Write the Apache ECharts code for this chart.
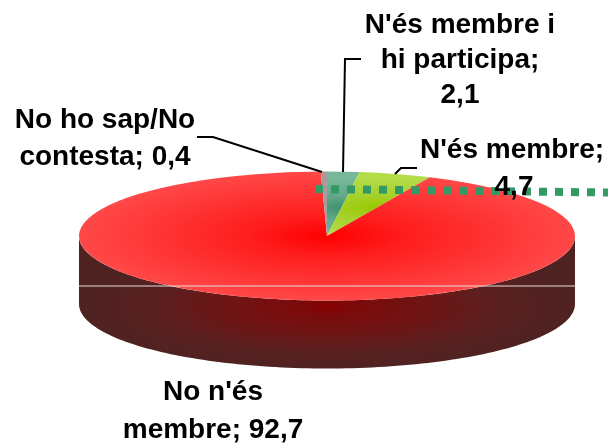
<!DOCTYPE html>
<html><head><meta charset="utf-8">
<style>html,body{margin:0;padding:0;background:#fff}#c{width:608px;height:443px}</style>
<script src="https://cdn.jsdelivr.net/npm/echarts@6/dist/echarts.min.js"></script>
</head><body><div id="c"></div>
<script>
const categories = ["N'és membre i hi participa", "N'és membre", "No n'és membre", "No ho sap/No contesta"];
const values = [2.1, 4.7, 92.7, 0.4];
const valueLabels = ["2,1", "4,7", "92,7", "0,4"];

const CX = 327, CY = 236, RX = 248, RY = 64.5, DEPTH = 68;
const K = RY / RX;
const total = values.reduce((a, b) => a + b, 0);
const topFills = [
  {type:'radial',x:18,y:-110,r:110,global:true,colorStops:[{offset:0,color:'#3f9070'},{offset:.4,color:'#62a888'},{offset:1,color:'#78b89a'}]},
  {type:'radial',x:50,y:-110,r:110,global:true,colorStops:[{offset:0,color:'#98c800'},{offset:.45,color:'#a6d22c'},{offset:1,color:'#b4dc48'}]},
  {type:'radial',x:0,y:0,r:RX,global:true,colorStops:[{offset:0,color:'#ff0000'},{offset:.3,color:'#ff1c1c'},{offset:1,color:'#ff4848'}]},
  {type:'radial',x:0,y:0,r:RX,global:true,colorStops:[{offset:0,color:'#a8a0a0'},{offset:1,color:'#a89898'}]}
];
const sideGrad = {type:'radial',x:0,y:(RY+6)/K,r:RX*0.98,global:true,colorStops:[
  {offset:0,color:'#860000'},{offset:.12,color:'#7c0a0a'},{offset:.4,color:'#701414'},{offset:.72,color:'#5a2020'},{offset:1,color:'#4f2222'}]};

function renderItem(params, api){
  const i = params.dataIndex;
  let before = 0;
  for(let j=0;j<i;j++) before += values[j];
  const v = api.value(0);
  const a0 = before/total*Math.PI*2 - Math.PI/2;
  const a1 = (before+v)/total*Math.PI*2 - Math.PI/2;
  const children = [];
  const s = Math.max(a0, 0), e = Math.min(a1, Math.PI);
  if(e > s){
    const pts = [], n = 120;
    for(let t=0;t<=n;t++){const a=s+(e-s)*t/n;pts.push([RX*Math.cos(a),RX*Math.sin(a)]);}
    for(let t=n;t>=0;t--){const a=s+(e-s)*t/n;pts.push([RX*Math.cos(a),RX*Math.sin(a)+DEPTH/K]);}
    children.push({type:'polygon',x:CX,y:CY,scaleY:K,shape:{points:pts},style:{fill:sideGrad},silent:true});
  }
  children.push({type:'sector',x:CX,y:CY,scaleY:K,
    shape:{cx:0,cy:0,r0:0,r:RX,startAngle:a0,endAngle:a1,clockwise:true},
    style:{fill:topFills[i]}});
  return {type:'group',children};
}
const chart = echarts.init(document.getElementById('c'),null,{renderer:'canvas'});
const font = {fontFamily:'"Liberation Sans",Arial,sans-serif',fontWeight:'bold',fontSize:28,fill:'#000',textAlign:'center',textVerticalAlign:'middle'};
function label(x,y,t){return {type:'text',x,y,z:20,style:Object.assign({},font,{text:t})};}
function line(pts,c,w,extra){return {type:'polyline',z:10,shape:{points:pts},style:Object.assign({stroke:c,lineWidth:w,fill:null},extra||{})};}
chart.setOption({
  animation:false,
  series:[{type:'custom',coordinateSystem:'none',renderItem,data:values.map((v,i)=>({name:categories[i],value:[v]}))}],
  graphic:[
    line([[79,286],[576,286]],'#e8dcdc',1),
    line([[315,189],[608,192.5]],'#339966',8,{lineDash:[8,8]}),
    line([[343,172],[345,59],[361,59]],'#000',2),
    line([[322,172],[213,137],[197,137]],'#000',2),
    line([[395,174],[401,168],[417,168]],'#000',2),
    label(460,25,"N'és membre i"),
    label(460,60,"hi participa;"),
    label(460,95,valueLabels[0]),
    label(105,120,"No ho sap/No"),
    label(105,157,"contesta; "+valueLabels[3]),
    label(512,150,"N'és membre;"),
    label(514,187,valueLabels[1]),
    label(213,392,"No n'és"),
    label(213,430,"membre; "+valueLabels[2])
  ]
});
</script></body></html>
